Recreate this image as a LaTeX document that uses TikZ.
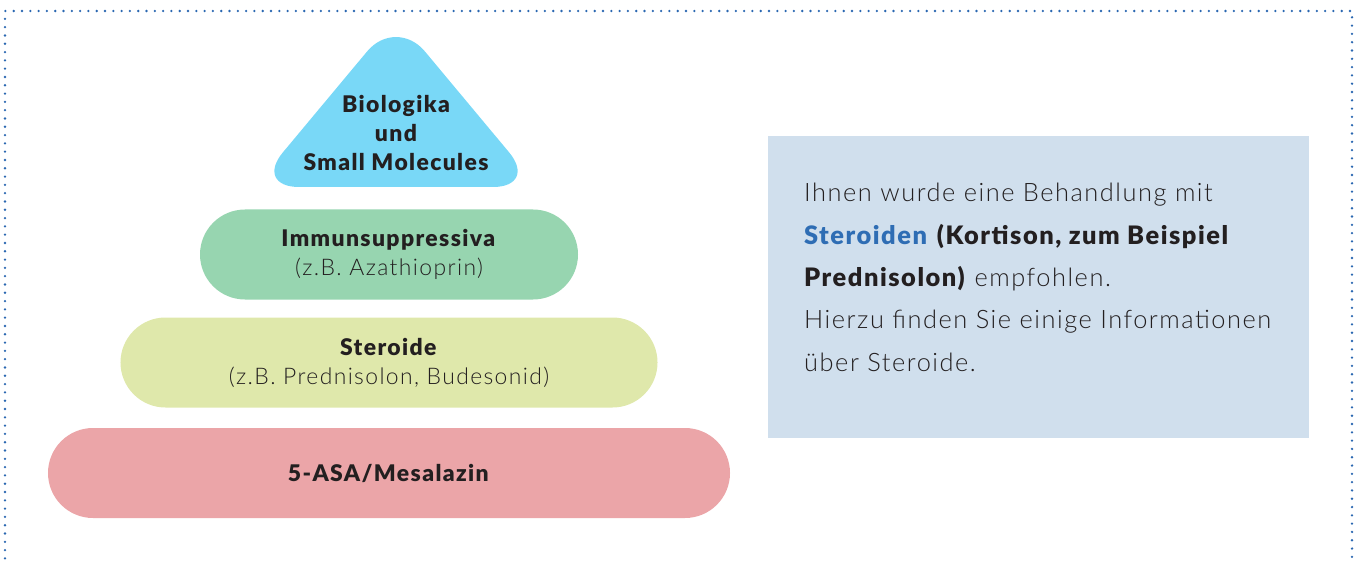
\documentclass[tikz,border=0pt]{standalone}
\usepackage{fontspec}
\setmainfont{Lato Light}[BoldFont={Lato Black}, LetterSpace=6]
\usetikzlibrary{shapes.misc,positioning}
\definecolor{frameDots}{HTML}{2A67B1}
\definecolor{biologikaFill}{HTML}{79D8F7}
\definecolor{immunoFill}{HTML}{97D5B0}
\definecolor{steroidFill}{HTML}{DFE8AB}
\definecolor{mesalazinFill}{HTML}{EBA5A8}
\definecolor{infoFill}{HTML}{D0DFED}
\definecolor{infoBlue}{HTML}{2E6DB4}
\definecolor{textDark}{HTML}{231F20}

\begin{document}
\begin{tikzpicture}[
  x=1bp, y=-1bp,
  every node/.style={
    text=textDark
  },
  every tier/.style={
    rounded rectangle,
    inner sep=0pt,
    minimum height=90bp,
    align=center,
    font=\fontsize{23}{29}\selectfont
  },
  frame/.style={
    draw=frameDots,
    line width=2.6bp,
    line cap=round,
    dash pattern=on 0bp off 8.3bp
  }
]
\useasboundingbox (0,0) rectangle (1358,562);
\draw[frame] (5,575) -- (5,11) -- (1352,11) -- (1352,575);

\fill[biologikaFill, rounded corners=45bp] (254,187) -- (396,16.8) -- (538,187) -- cycle;
\node[align=center, font=\bfseries\fontsize{23}{29}\selectfont] (biologika) at (396,133)
  {Biologika\\und\\Small Molecules};

\foreach \n/\w/\y/\t in {
  {immuno/378/254.5/{\textbf{Immunsuppressiva}\\(z.B. Azathioprin)}},
  {steroid/537/362.5/{\textbf{Steroide}\\(z.B. Prednisolon, Budesonid)}},
  {mesalazin/682/473/{\textbf{5-ASA/Mesalazin}}}}
{
  \node[every tier/.try, fill=\n Fill, minimum width=\w bp] (\n) at (389,\y) {\t};
}

\node[fill=infoFill, inner sep=0pt, minimum width=541bp, minimum height=302bp,
  anchor=north west] (infobox) at (768,136) {};
\node[anchor=north west, inner sep=0pt, align=left,
  font=\fontsize{25.5}{42.5}\selectfont] (infotext) at (804,183.2)
  {Ihnen wurde eine Behandlung mit\\
   \textcolor{infoBlue}{\textbf{Steroiden}} \textbf{(Kortison, zum Beispiel}\\
   \textbf{Prednisolon)} empfohlen.\\
   Hierzu finden Sie einige Informationen\\
   über Steroide.};
\end{tikzpicture}
\end{document}
